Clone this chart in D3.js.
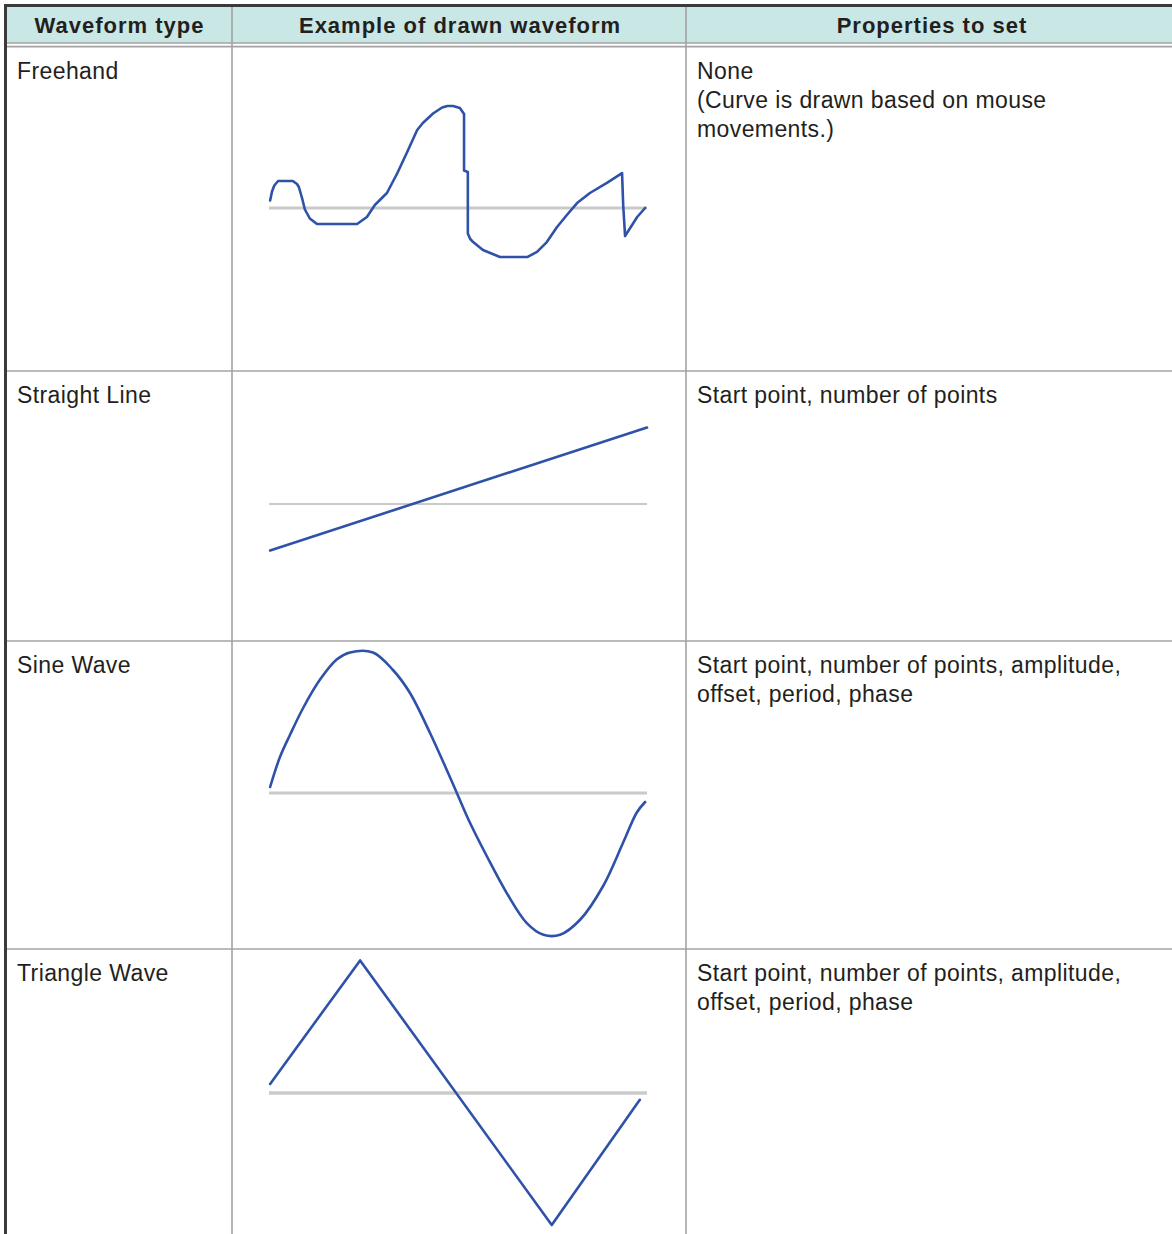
<!DOCTYPE html>
<html lang="en">
<head>
<meta charset="utf-8">
<title>Waveform types</title>
<script src="https://cdn.jsdelivr.net/npm/d3@7"></script>
<style>
  body { margin: 0; background: #fff; }
  .head { font-family: "Liberation Sans", Arial, sans-serif; font-weight: bold; font-size: 22px; letter-spacing: 1px; fill: #231f20; text-anchor: middle; }
  .cell { font-family: "Liberation Sans", Arial, sans-serif; font-size: 23px; letter-spacing: 0.4px; fill: #231f20; }
  .grid { stroke: #a3a3a3; stroke-width: 1.6; }
  .outer { stroke: #3a3a3a; stroke-width: 3; }
  .zero { fill: none; stroke: #cacaca; }
  .wave { fill: none; stroke: #2f52a8; stroke-width: 2.6; stroke-linejoin: round; stroke-linecap: round; }
</style>
</head>
<body>
<div id="chart"></div>
<script>
// table text
var headers = ["Waveform type", "Example of drawn waveform", "Properties to set"];
var waveTypes = ["Freehand", "Straight Line", "Sine Wave", "Triangle Wave"];
var properties = [
  ["None", "(Curve is drawn based on mouse", "movements.)"],
  ["Start point, number of points"],
  ["Start point, number of points, amplitude,", "offset, period, phase"],
  ["Start point, number of points, amplitude,", "offset, period, phase"]
];

// waveform samples: [time %, level %]
var freehandPts = [[0.3,5],[0.8,11],[1.4,15],[2.4,18],[6.3,18],[7.4,16],[7.9,14],[8.7,7],[9.5,-1],[10.8,-7],
  [12.7,-10.7],[23.3,-10.7],[25.9,-6],[28,2],[31.2,10],[33.9,23],[36.5,37],[39.2,52],[40.7,56.7],[43.4,63],
  [45.8,67],[47.2,68],[48.7,68],[50.5,66.7],[51.6,62.7],[51.6,25],[52.6,24],[52.6,-17],[53.2,-20.5],[54,-22.7],
  [56.6,-28],[61.1,-32.7],[68.3,-32.7],[70.9,-29.3],[73.5,-22.7],[76.2,-12.7],[78.8,-4.7],[81.5,3.3],[84.9,10],
  [89.4,16.7],[93.4,23.3],[93.7,2],[94.2,-18.7],[97.4,-6],[99.5,0]];
var straightPts = [[0.3,-31],[100,51]];
var sinePts = [[0.3,4],[2.9,24],[5.6,39],[9.1,57],[13.5,75.6],[17.9,89],[21.4,93.7],[27.5,93.7],
  [32.8,82],[37.3,66.7],[42.6,40],[47,15.5],[49.7,0],[53.2,-20],[57.6,-42],[62.9,-66.7],[68.2,-86.7],
  [72.6,-94.5],[77,-94.5],[82.3,-84.5],[88.4,-62],[93.7,-33],[97.3,-13],[99.5,-6]];
var trianglePts = [[0.3,6],[24.1,88.4],[74.8,-88],[98.1,-4.5]];

var waves = [freehandPts, straightPts, sinePts, trianglePts];

var width = 1172, height = 1234;
var colX = [5, 232, 686, 1180];
var rowY = [5, 43, 371, 641, 949, 1240];   // header top, header bottom, row lines
var baselines = [208, 504, 793, 1093];
var curves = [d3.curveLinear, d3.curveLinear, d3.curveCatmullRom.alpha(0.5), d3.curveLinear];
var zeroWidth = [3, 2, 3, 3.5];

var svg = d3.select("#chart").append("svg")
    .attr("width", width)
    .attr("height", height);

// header band
svg.append("rect")
   .attr("x", colX[0]).attr("y", rowY[0])
   .attr("width", colX[3] - colX[0]).attr("height", rowY[1] - rowY[0])
   .attr("fill", "#c9e7e4");

// grid lines
var grid = svg.append("g");
grid.selectAll(".col")
    .data(colX.slice(1, 3))
    .enter().append("line")
    .attr("class", "grid")
    .attr("x1", function(d) { return d; }).attr("x2", function(d) { return d; })
    .attr("y1", rowY[0]).attr("y2", height);

grid.selectAll(".row")
    .data([rowY[1], rowY[1] + 3.6, rowY[2], rowY[3], rowY[4]])
    .enter().append("line")
    .attr("class", "grid")
    .attr("x1", colX[0]).attr("x2", width)
    .attr("y1", function(d) { return d; }).attr("y2", function(d) { return d; });

// outer top / left border
svg.append("line").attr("class", "outer")
   .attr("x1", 4).attr("x2", width).attr("y1", 5.5).attr("y2", 5.5);
svg.append("line").attr("class", "outer")
   .attr("x1", 5.5).attr("x2", 5.5).attr("y1", 4).attr("y2", height);

// header text
svg.selectAll(".head")
   .data(headers)
   .enter().append("text")
   .attr("class", "head")
   .attr("x", function(d, i) { return i < 2 ? (colX[i] + colX[i + 1]) / 2 + 1 : 932; })
   .attr("y", 33)
   .text(function(d) { return d; });

// body text
var rowTops = [47, 371, 641, 949];
svg.selectAll(".type")
   .data(waveTypes)
   .enter().append("text")
   .attr("class", "cell")
   .attr("x", 17)
   .attr("y", function(d, i) { return rowTops[i] + 32; })
   .text(function(d) { return d; });

properties.forEach(function(lines, i) {
  svg.append("text")
     .attr("class", "cell")
     .selectAll("tspan")
     .data(lines)
     .enter().append("tspan")
     .attr("x", 697)
     .attr("y", function(d, j) { return rowTops[i] + 32 + j * 29; })
     .text(function(d) { return d; });
});

// waveform drawings
var x = d3.scaleLinear().domain([0, 100]).range([269, 647]);

waves.forEach(function(pts, i) {
  var y = d3.scaleLinear().domain([-100, 100]).range([baselines[i] + 150, baselines[i] - 150]);
  var g = svg.append("g");

  g.append("line")
   .attr("class", "zero")
   .attr("x1", x(0)).attr("x2", x(100))
   .attr("y1", y(0)).attr("y2", y(0))
   .style("stroke-width", zeroWidth[i]);

  var line = d3.line()
      .x(function(d) { return x(d[0]); })
      .y(function(d) { return y(d[1]); })
      .curve(curves[i]);

  g.append("path")
   .datum(pts)
   .attr("class", "wave")
   .attr("d", line);
});
</script>
</body>
</html>
